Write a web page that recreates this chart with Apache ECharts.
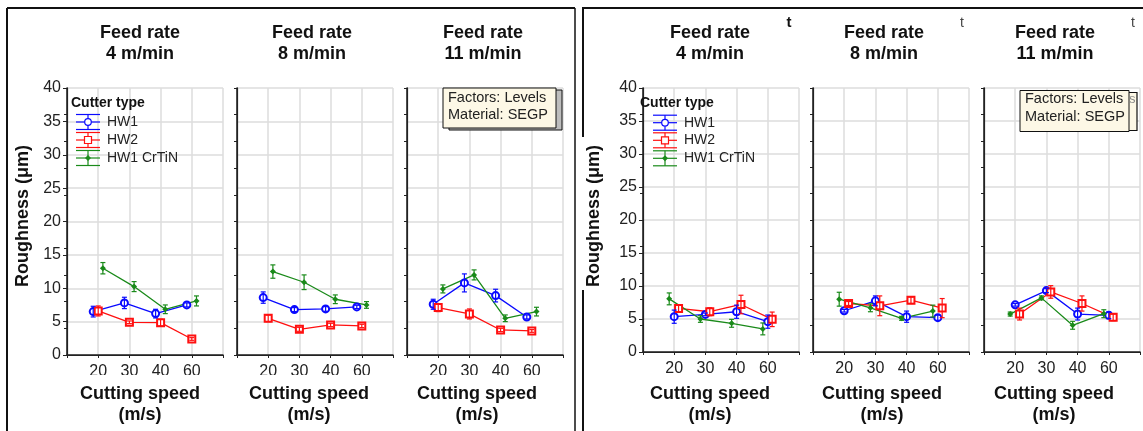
<!DOCTYPE html>
<html>
<head>
<meta charset="utf-8">
<script src="https://cdn.jsdelivr.net/npm/echarts@6/dist/echarts.min.js"></script>
<style>
  html, body { margin: 0; padding: 0; background: #fff; }
  #chart { width: 1143px; height: 431px; }
</style>
</head>
<body>
<div id="chart"></div>
<script>
// tick labels / categories
const speeds = ['20', '30', '40', '60']
const feedRates = ['4 m/min', '8 m/min', '11 m/min']
const cutters = ['HW1', 'HW2', 'HW1 CrTiN']

// left figure: one row per feed rate (4, 8, 11 m/min), values at 20/30/40/60 m/s
const leftHW1 = [[6.5, 7.8, 6.2, 7.5], [8.6, 6.8, 6.9, 7.2], [7.6, 10.8, 8.9, 5.7]]
const leftHW1Err = [[0.8, 0.85, 0.65, 0.3], [0.85, 0.3, 0.35, 0.25], [0.75, 1.35, 0.95, 0.3]]
const leftHW2 = [[6.6, 4.9, 4.85, 2.4], [5.5, 3.85, 4.5, 4.35], [7.1, 6.15, 3.75, 3.6]]
const leftHW2Err = [[0.75, 0.2, 0.5, 0.2], [0.5, 0.3, 0.25, 0.25], [0.6, 0.75, 0.25, 0.2]]
const leftCrTiN = [[13.0, 10.25, 6.85, 8.1], [12.5, 10.9, 8.35, 7.5], [9.9, 12.0, 5.5, 6.5]]
const leftCrTiNErr = [[0.85, 0.75, 0.65, 0.75], [1.0, 1.1, 0.65, 0.5], [0.6, 0.75, 0.5, 0.65]]

// right figure
const rightHW1 = [[5.35, 5.7, 6.1, 4.6], [6.25, 7.75, 5.35, 5.2], [7.15, 9.3, 5.75, 5.55]]
const rightHW1Err = [[1.0, 0.2, 1.0, 1.0], [0.2, 0.75, 0.85, 0.4], [0.2, 0.3, 0.9, 0.5]]
const rightHW2 = [[6.6, 6.1, 7.2, 4.95], [7.35, 7.0, 7.85, 6.65], [5.75, 9.1, 7.35, 5.25]]
const rightHW2Err = [[0.5, 0.6, 1.4, 1.1], [0.3, 1.5, 0.5, 1.45], [0.9, 0.95, 1.15, 0.5]]
const rightCrTiN = [[8.05, 5.0, 4.35, 3.5], [8.0, 6.7, 5.1, 6.2], [5.75, 8.2, 4.05, 5.8]]
const rightCrTiNErr = [[0.9, 0.5, 0.6, 0.9], [1.05, 0.6, 0.3, 0.9], [0.3, 0.3, 0.6, 0.6]]

const colors = ['#0a0aff', '#ff1010', '#1a8a1a']
const symbols = ['emptyCircle', 'emptyRect', 'diamond']
const FONT = 'Arial, "Liberation Sans", sans-serif'

// layout of the two figures
const panels = [
  {
    lefts: [67, 237, 407], width: 156, top: 88, height: 267,
    dodge: [-0.16, 0, 0.15],
    means: [leftHW1, leftHW2, leftCrTiN],
    errs: [leftHW1Err, leftHW2Err, leftCrTiNErr],
    titleX: [140, 312, 483], xTitleX: [140, 309, 477]
  },
  {
    lefts: [643, 813, 984], width: 156, top: 88, height: 264,
    dodge: [0, 0.14, -0.16],
    means: [rightHW1, rightHW2, rightCrTiN],
    errs: [rightHW1Err, rightHW2Err, rightCrTiNErr],
    titleX: [710, 884, 1055], xTitleX: [710, 882, 1054]
  }
]

function renderErr(params, api) {
  const x = api.value(0)
  const y = api.value(1)
  const e = api.value(2)
  const lo = api.coord([x, y - e])
  const hi = api.coord([x, y + e])
  const style = { stroke: api.visual('color'), lineWidth: 1.2 }
  return {
    type: 'group',
    children: [
      { type: 'line', shape: { x1: lo[0], y1: lo[1], x2: hi[0], y2: hi[1] }, style },
      { type: 'line', shape: { x1: lo[0] - 2.5, y1: lo[1], x2: lo[0] + 2.5, y2: lo[1] }, style },
      { type: 'line', shape: { x1: hi[0] - 2.5, y1: hi[1], x2: hi[0] + 2.5, y2: hi[1] }, style }
    ]
  }
}

const grid = []
const xAxis = []
const yAxis = []
const series = []
const graphic = []

function txt(x, y, text, opt) {
  graphic.push(Object.assign({
    type: 'text', x, y, z: 100,
    style: Object.assign({
      text, fontFamily: FONT, fontSize: 18, fontWeight: 'bold', fill: '#111',
      align: 'center', verticalAlign: 'middle'
    }, opt || {})
  }))
}
function seg(x1, y1, x2, y2, w, color) {
  graphic.push({
    type: 'line', z: 100,
    shape: { x1, y1, x2, y2 },
    style: { stroke: color || '#111', lineWidth: w || 1 }
  })
}

panels.forEach((p, pi) => {
  p.lefts.forEach((left, fi) => {
    const g = grid.length
    const first = fi === 0
    grid.push({ left, top: p.top, width: p.width, height: p.height })
    xAxis.push({
      gridIndex: g, type: 'value', min: 0, max: 5, interval: 1, position: 'bottom',
      axisLine: { lineStyle: { color: '#222', width: 1.5 } },
      axisTick: { show: false },
      axisLabel: {
        fontSize: 16, color: '#222', margin: 9, fontFamily: FONT,
        formatter: v => speeds[v - 1] || ''
      },
      splitLine: { show: true, lineStyle: { color: '#dcdcdc', width: 1.5 } }
    })
    xAxis.push({
      gridIndex: g, type: 'value', min: 0, max: 5, interval: 1, position: 'top',
      axisLine: { lineStyle: { color: '#222', width: 1.2 } },
      axisTick: { inside: true, length: 3, lineStyle: { color: '#222' } },
      axisLabel: { show: false },
      splitLine: { show: false }
    })
    yAxis.push({
      gridIndex: g, type: 'value', min: 0, max: 40, interval: 5, position: 'left',
      axisLine: { show: true, lineStyle: { color: '#222', width: 1.5 } },
      axisTick: { show: first, length: 4, lineStyle: { color: '#222' } },
      axisLabel: { show: first, fontSize: 16, color: '#222', margin: 6, fontFamily: FONT },
      splitLine: { show: true, lineStyle: { color: '#dcdcdc', width: 1.5 } }
    })
    yAxis.push({
      gridIndex: g, type: 'value', min: 0, max: 40, interval: 4, position: 'right',
      axisLine: { show: true, lineStyle: { color: '#222', width: 1.2 } },
      axisTick: { inside: true, length: 3, lineStyle: { color: '#222' } },
      axisLabel: { show: false },
      splitLine: { show: false }
    })

    cutters.forEach((name, ci) => {
      const vals = p.means[ci][fi]
      const errs = p.errs[ci][fi]
      const pts = vals.map((v, k) => [k + 1 + p.dodge[ci], v, errs[k]])
      series.push({
        type: 'line', name, xAxisIndex: 2 * g, yAxisIndex: 2 * g,
        data: pts, symbol: symbols[ci], symbolSize: ci === 2 ? 6 : 7,
        color: colors[ci],
        lineStyle: { width: 1.3, color: colors[ci] },
        itemStyle: { color: colors[ci], borderWidth: 1.2 },
        z: 3, animation: false
      })
      series.push({
        type: 'custom', xAxisIndex: 2 * g, yAxisIndex: 2 * g,
        data: pts, renderItem: renderErr,
        itemStyle: { color: colors[ci] },
        z: 4, animation: false
      })
    })

    txt(p.titleX[fi], 33, 'Feed rate')
    txt(p.titleX[fi], 54, feedRates[fi])
    txt(p.xTitleX[fi], 394, 'Cutting speed')
    txt(p.xTitleX[fi], 415, '(m/s)')
  })
})

// y axis titles
txt(23, 216, 'Roughness (μm)', {}) ; graphic[graphic.length - 1].rotation = Math.PI / 2
txt(594, 216, 'Roughness (μm)', {}) ; graphic[graphic.length - 1].rotation = Math.PI / 2

// legends
function legend(tx, sx, ys) {
  txt(tx, 103, 'Cutter type', { fontSize: 14, align: 'left' })
  cutters.forEach((name, ci) => {
    const cy = ys[ci]
    const c = colors[ci]
    const cx = sx + 12
    seg(sx, cy - 7.5, sx + 24, cy - 7.5, 1.2, c)
    seg(sx, cy, sx + 24, cy, 1.2, c)
    seg(sx, cy + 7.5, sx + 24, cy + 7.5, 1.2, c)
    seg(cx, cy - 7.5, cx, cy + 7.5, 1.2, c)
    if (ci === 0) {
      graphic.push({ type: 'circle', z: 101, shape: { cx, cy, r: 3.3 }, style: { fill: '#fff', stroke: c, lineWidth: 1.2 } })
    } else if (ci === 1) {
      graphic.push({ type: 'rect', z: 101, shape: { x: cx - 3.5, y: cy - 3.5, width: 7, height: 7 }, style: { fill: '#fff', stroke: c, lineWidth: 1.2 } })
    } else {
      graphic.push({ type: 'polygon', z: 101, shape: { points: [[cx, cy - 3], [cx + 3, cy], [cx, cy + 3], [cx - 3, cy]] }, style: { fill: c } })
    }
    txt(sx + 31, cy, name, { fontSize: 14, fontWeight: 'normal', align: 'left', fill: '#222' })
  })
}
legend(71, 76, [122, 140, 158])
legend(640, 653, [122.7, 140.3, 158.3])

// note boxes
graphic.push({ type: 'rect', z: 99, shape: { x: 449, y: 90, width: 113, height: 40 }, style: { fill: '#bdbdbd', stroke: '#111', lineWidth: 1 } })
graphic.push({ type: 'rect', z: 99, shape: { x: 443, y: 88, width: 113, height: 40 }, style: { fill: '#fdf8e6', stroke: '#111', lineWidth: 1 } })
txt(448, 97.5, 'Factors: Levels', { fontSize: 14.5, fontWeight: 'normal', align: 'left', fill: '#222' })
txt(448, 115, 'Material: SEGP', { fontSize: 14.5, fontWeight: 'normal', align: 'left', fill: '#222' })
graphic.push({ type: 'rect', z: 99, shape: { x: 1040, y: 92.5, width: 97, height: 38 }, style: { fill: '#fdf8e6', stroke: '#111', lineWidth: 1.2 } })
txt(1129, 99, 's', { fontSize: 13, fontWeight: 'normal', align: 'left', fill: '#888' })
graphic.push({ type: 'rect', z: 99, shape: { x: 1020, y: 90.5, width: 109, height: 41 }, style: { fill: '#fdf8e6', stroke: '#111', lineWidth: 1 } })
txt(1025, 98.5, 'Factors: Levels', { fontSize: 14.5, fontWeight: 'normal', align: 'left', fill: '#222' })
txt(1025, 116.5, 'Material: SEGP', { fontSize: 14.5, fontWeight: 'normal', align: 'left', fill: '#222' })

// stray glyphs in the right figure header
txt(789, 23, 't', { fontSize: 15 })
txt(962, 23, 't', { fontSize: 14, fontWeight: 'normal', fill: '#444' })
txt(1133, 23, 't', { fontSize: 14, fontWeight: 'normal', fill: '#444' })

// clipped tick labels in the left figure
graphic.push({ type: 'rect', z: 98, shape: { x: 60, y: 375, width: 510, height: 9 }, style: { fill: '#fff' } })

// outer frames
seg(7, 8, 575, 8, 2)
seg(7, 8, 7, 431, 2)
seg(575, 8, 575, 431, 1.5)
seg(582, 8, 1143, 8, 2)
seg(583, 8, 583, 137, 2)
seg(583, 290, 583, 431, 2)

const chart = echarts.init(document.getElementById('chart'))
chart.setOption({
  animation: false,
  backgroundColor: '#fff',
  grid, xAxis, yAxis, series, graphic
})
</script>
</body>
</html>
